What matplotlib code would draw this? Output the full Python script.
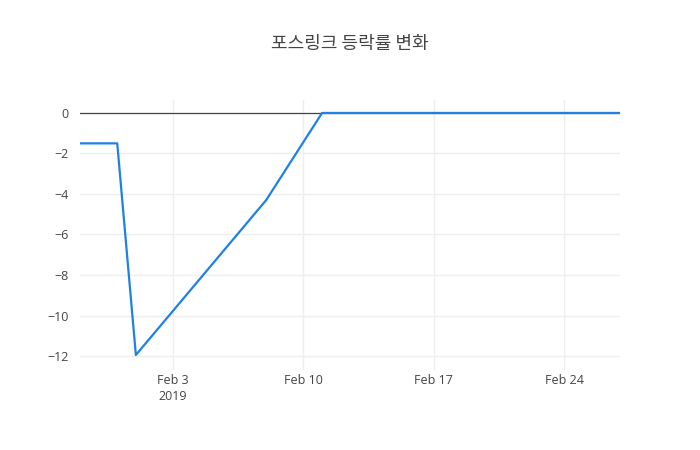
import matplotlib
matplotlib.use("Agg")
import matplotlib.pyplot as plt
import matplotlib.dates as mdates
import numpy as np
import pandas as pd

dates = ["2019-01-29", "2019-01-30", "2019-01-31", "2019-02-01", "2019-02-08",
         "2019-02-11", "2019-02-12", "2019-02-13", "2019-02-14", "2019-02-15",
         "2019-02-18", "2019-02-19", "2019-02-20", "2019-02-21", "2019-02-22",
         "2019-02-25", "2019-02-26", "2019-02-27"]
values = [-1.5, -1.5, -1.5, -11.95, -4.3,
          0, 0, 0, 0, 0,
          0, 0, 0, 0, 0,
          0, 0, 0]
title = "포스링크 등락률 변화"
xticks = ["2019-02-03", "2019-02-10", "2019-02-17", "2019-02-24"]
xticklabels = ["Feb 3\n2019", "Feb 10", "Feb 17", "Feb 24"]
yticks = [0, -2, -4, -6, -8, -10, -12]

x = pd.to_datetime(dates)

fig = plt.figure(figsize=(7, 4.5), dpi=100)
ax = fig.add_axes([80/700, 80/450, 540/700, 270/450])
ax.plot(x, values, color="#1f80e6", lw=1.6, zorder=3, solid_joinstyle="round")
ax.set_xlim(pd.Timestamp("2019-01-29"), pd.Timestamp("2019-02-27"))
ax.set_ylim(-12.69, 0.64)
ax.axhline(0, color="#444444", lw=0.9, zorder=2)

ax.set_xticks(pd.to_datetime(xticks))
ax.set_xticklabels(xticklabels)
ax.set_yticks(yticks)
ax.set_yticklabels(["−" + str(abs(v)) if v < 0 else str(v) for v in yticks])
ax.grid(True, color="#eeeeee", lw=1, zorder=1)
for s in ax.spines.values():
    s.set_visible(False)
ax.tick_params(axis="x", length=0, labelsize=9, labelcolor="#444444", pad=3)
ax.tick_params(axis="y", length=0, labelsize=9, labelcolor="#444444", pad=8)
for lab in ax.get_xticklabels() + ax.get_yticklabels():
    lab.set_family(["Open Sans", "DejaVu Sans"])
for lab in ax.get_xticklabels():
    lab.set_linespacing(1.25)
    lab.set_verticalalignment("top")

fig.text(350/700, 1 - 44/450, title, ha="center", va="center", fontsize=13,
         color="#444444", family=["Noto Sans CJK KR", "DejaVu Sans"])
fig.savefig("out.png")
